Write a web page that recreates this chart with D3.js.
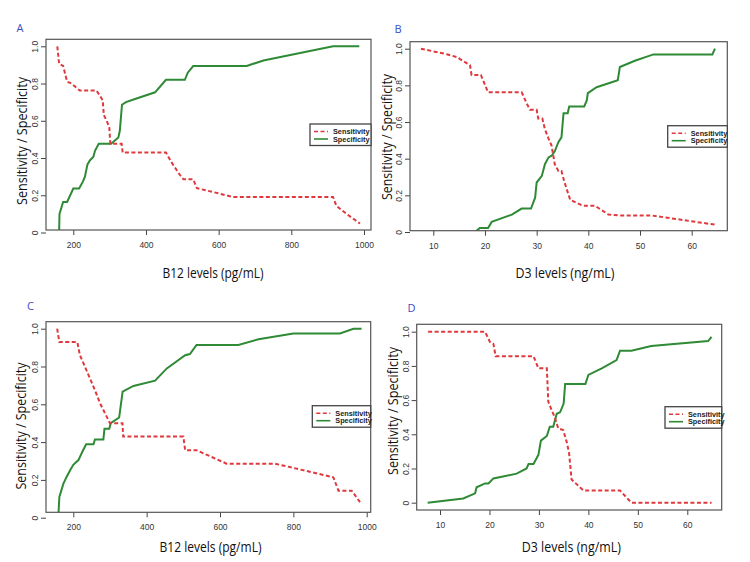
<!DOCTYPE html>
<html lang="en">
<head>
<meta charset="utf-8">
<title>Sensitivity / Specificity curves</title>
<script src="https://d3js.org/d3.v7.min.js"></script>
<style>
    body { margin: 0; background: #fff; }
    svg { display: block; }
    .tick text { font-family: 'Liberation Sans', Arial, sans-serif; font-size: 8.5px; fill: #333; }
    .tick line { stroke: #444; }
    .title { font-family: 'Open Sans', 'Noto Sans', sans-serif; font-size: 14.5px; fill: #111; }
    .letter { font-family: 'Open Sans', sans-serif; font-size: 11px; fill: #3b4cc0; }
    .leg text { font-family: 'Liberation Sans', Arial, sans-serif; font-size: 7.3px; font-weight: bold; fill: #222; }
</style>
</head>
<body>
<svg id="chart" width="750" height="562"></svg>
<script>
// values
const panelLetters = ['A', 'B', 'C', 'D'];
const xTitles = ['B12 levels (pg/mL)', 'D3 levels (ng/mL)', 'B12 levels (pg/mL)', 'D3 levels (ng/mL)'];
const b12Ticks = [200, 400, 600, 800, 1000];
const d3Ticks = [10, 20, 30, 40, 50, 60];
const yTicks = [0, 0.2, 0.4, 0.6, 0.8, 1.0];
const legendLabels = ['Sensitivity', 'Specificity'];

// panel A
const aSensX = [156, 161, 172, 183, 195, 207, 218, 264, 273, 281, 284, 292, 299, 302, 333, 336, 455, 471, 493, 503, 530, 540, 600, 640, 915, 924, 952, 989];
const aSensY = [1.0, 0.905, 0.895, 0.81, 0.80, 0.78, 0.762, 0.762, 0.735, 0.71, 0.63, 0.60, 0.565, 0.476, 0.476, 0.429, 0.429, 0.375, 0.31, 0.286, 0.286, 0.238, 0.21, 0.19, 0.19, 0.143, 0.10, 0.048];
const aSpecX = [161, 162, 172, 183, 200, 216, 226, 232, 239, 246, 255, 260, 270, 304, 324, 328, 334, 345, 370, 425, 455, 507, 515, 530, 677, 723, 915, 987];
const aSpecY = [0, 0.10, 0.164, 0.164, 0.236, 0.236, 0.272, 0.30, 0.366, 0.388, 0.405, 0.44, 0.477, 0.477, 0.51, 0.546, 0.686, 0.70, 0.717, 0.753, 0.82, 0.82, 0.858, 0.894, 0.894, 0.924, 1.0, 1.0];

// panel B
const bSensX = [7.6, 12.6, 14.5, 17.1, 17.4, 19.2, 20.6, 27.1, 28.1, 28.7, 30.0, 30.3, 31.1, 31.6, 32.3, 32.9, 33.5, 34.2, 34.8, 35.4, 36.5, 39.0, 41.3, 43.9, 46.1, 52.3, 64.5];
const bSensY = [1.0, 0.97, 0.955, 0.91, 0.857, 0.857, 0.762, 0.762, 0.70, 0.667, 0.667, 0.619, 0.619, 0.56, 0.51, 0.47, 0.37, 0.333, 0.333, 0.27, 0.175, 0.143, 0.143, 0.095, 0.09, 0.09, 0.04];
const bSpecX = [18.1, 19.0, 20.6, 21.3, 25.2, 27.1, 28.9, 29.7, 30.0, 31.0, 31.6, 32.3, 32.9, 33.5, 34.2, 34.8, 35.2, 36.0, 36.3, 39.2, 39.7, 39.9, 41.6, 45.7, 46.1, 49.0, 52.6, 64.0, 64.5];
const bSpecY = [0, 0.022, 0.022, 0.055, 0.095, 0.128, 0.128, 0.187, 0.27, 0.306, 0.37, 0.407, 0.416, 0.44, 0.49, 0.516, 0.648, 0.648, 0.685, 0.685, 0.718, 0.758, 0.79, 0.828, 0.90, 0.934, 0.969, 0.969, 1.0];

// panel C
const cSensX = [156, 162, 211, 218, 236, 259, 273, 300, 334, 336, 500, 505, 536, 618, 750, 909, 923, 959, 986];
const cSensY = [1.0, 0.929, 0.929, 0.86, 0.78, 0.675, 0.605, 0.5, 0.5, 0.429, 0.429, 0.357, 0.357, 0.286, 0.286, 0.214, 0.143, 0.143, 0.071];
const cSpecX = [159, 162, 173, 182, 191, 200, 214, 227, 235, 255, 259, 282, 285, 298, 302, 325, 334.5, 364, 423, 455, 505, 518, 536, 650, 705, 800, 927, 964, 986];
const cSpecY = [0, 0.11, 0.18, 0.217, 0.25, 0.28, 0.305, 0.358, 0.388, 0.388, 0.414, 0.414, 0.47, 0.47, 0.5, 0.53, 0.667, 0.697, 0.725, 0.79, 0.86, 0.866, 0.914, 0.914, 0.944, 0.975, 0.975, 1.0, 1.0];

// panel D
const dSensX = [7.6, 19.1, 20.1, 20.8, 21.25, 28.9, 29.9, 31.6, 31.9, 32.6, 33.2, 33.9, 34.9, 35.6, 36.1, 36.6, 39.0, 46.4, 48.7, 64.9];
const dSensY = [1.0, 1.0, 0.94, 0.929, 0.857, 0.857, 0.786, 0.786, 0.59, 0.54, 0.50, 0.435, 0.425, 0.357, 0.29, 0.136, 0.071, 0.071, 0, 0];
const dSpecX = [7.5, 14.7, 17.1, 17.4, 19.1, 19.8, 20.8, 22.5, 25.5, 27.5, 27.9, 28.9, 29.9, 30.4, 31.6, 32.2, 32.9, 33.6, 34.3, 35.0, 35.3, 39.4, 40.0, 42.7, 45.7, 46.4, 48.7, 52.7, 64.2, 64.9];
const dSpecY = [0, 0.025, 0.055, 0.09, 0.113, 0.113, 0.142, 0.152, 0.17, 0.2, 0.226, 0.226, 0.28, 0.363, 0.39, 0.444, 0.444, 0.52, 0.53, 0.58, 0.694, 0.694, 0.747, 0.786, 0.834, 0.889, 0.889, 0.916, 0.945, 0.97];

const RED = '#e0383c', GREEN = '#2f8a36';

// page layout of the four panels (pixel positions measured on the figure)
const panels = [
    { box: [46, 39.3, 371, 230], xd: [200, 1000], xr: [73.3, 364], yr: [232.5, 46.3], ticks: b12Ticks,
      sens: [aSensX, aSensY], spec: [aSpecX, aSpecY], legend: [310, 124], letter: [16.5, 31.5],
      xt: [213, 278], xLen: 101, yt: [21.7, 141], yLen: 128 },
    { box: [410, 41.7, 727.3, 230.7], xd: [10, 60], xr: [433.3, 691.7], yr: [232, 48.7], ticks: d3Ticks,
      sens: [bSensX, bSensY], spec: [bSpecX, bSpecY], legend: [667.7, 125.7], letter: [394.5, 32.5],
      xt: [565, 278], xLen: 99, yt: [386.7, 137], yLen: 126 },
    { box: [46, 321.7, 370.7, 512.3], xd: [200, 1000], xr: [73.3, 366.7], yr: [517.7, 328.7], ticks: b12Ticks,
      sens: [cSensX, cSensY], spec: [cSpecX, cSpecY], legend: [312.3, 405.7], letter: [27, 310],
      xt: [210.5, 551.5], xLen: 102, yt: [20.7, 426], yLen: 127 },
    { box: [416.7, 324.3, 721.7, 510], xd: [10, 60], xr: [440, 687.3], yr: [502.7, 331.7], ticks: d3Ticks,
      sens: [dSensX, dSensY], spec: [dSpecX, dSpecY], legend: [665, 406.7], letter: [407.5, 311.5],
      xt: [571.3, 551.5], xLen: 99, yt: [393.3, 411], yLen: 128 }
];

const svg = d3.select('#chart');
const yFmt = d => d === 0 ? '0' : d3.format('.1f')(d);

panels.forEach((p, i) => {
    const [l, t, r, b] = p.box;
    const x = d3.scaleLinear().domain(p.xd).range(p.xr);
    const y = d3.scaleLinear().domain([0, 1]).range(p.yr);
    const g = svg.append('g');

    g.append('clipPath').attr('id', 'clip' + i)
        .append('rect').attr('x', l).attr('y', t).attr('width', r - l).attr('height', b - t);

    // x axis (ticks hang below the frame)
    const xa = g.append('g').attr('transform', `translate(0,${b})`)
        .call(d3.axisBottom(x).tickValues(p.ticks).tickSize(5).tickPadding(7).tickFormat(d3.format('d')));
    xa.select('.domain').remove();

    // y axis, labels turned like base R
    const ya = g.append('g').attr('transform', `translate(${l},0)`)
        .call(d3.axisLeft(y).tickValues(yTicks).tickSize(5).tickFormat(yFmt));
    ya.select('.domain').remove();
    ya.selectAll('.tick text')
        .attr('x', null).attr('dy', null)
        .attr('text-anchor', 'middle')
        .attr('transform', 'translate(-8,0) rotate(-90)');

    // curves
    const line = d3.line().x(d => x(d[0])).y(d => y(d[1]));
    const plot = g.append('g').attr('clip-path', `url(#clip${i})`);
    plot.append('path')
        .attr('d', line(d3.zip(p.spec[0], p.spec[1])))
        .attr('fill', 'none').attr('stroke', GREEN).attr('stroke-width', 2);
    plot.append('path')
        .attr('d', line(d3.zip(p.sens[0], p.sens[1])))
        .attr('fill', 'none').attr('stroke', RED).attr('stroke-width', 2)
        .attr('stroke-dasharray', '4,2.5');

    // frame
    g.append('rect').attr('x', l).attr('y', t).attr('width', r - l).attr('height', b - t)
        .attr('fill', 'none').attr('stroke', '#555').attr('stroke-width', 1.2);

    // legend
    const [lx, ly] = p.legend;
    const leg = g.append('g').attr('class', 'leg').attr('transform', `translate(${lx},${ly})`);
    leg.append('rect').attr('width', r - lx).attr('height', 21.5)
        .attr('fill', '#fff').attr('stroke', '#444').attr('stroke-width', 1.3);
    legendLabels.forEach((lab, k) => {
        const yy = 7.5 + k * 7.5;
        leg.append('line').attr('x1', 4).attr('x2', 18).attr('y1', yy).attr('y2', yy)
            .attr('stroke', k === 0 ? RED : GREEN).attr('stroke-width', 1.6)
            .attr('stroke-dasharray', k === 0 ? '4,2.5' : null);
        leg.append('text').attr('x', 23).attr('y', yy + 2.5).text(lab);
    });

    // titles
    g.append('text').attr('class', 'title')
        .attr('x', p.xt[0]).attr('y', p.xt[1]).attr('text-anchor', 'middle')
        .attr('textLength', p.xLen).attr('lengthAdjust', 'spacingAndGlyphs')
        .text(xTitles[i]);
    g.append('text').attr('class', 'title')
        .attr('transform', `translate(${p.yt[0] + 5},${p.yt[1]}) rotate(-90)`)
        .attr('text-anchor', 'middle')
        .attr('textLength', p.yLen).attr('lengthAdjust', 'spacingAndGlyphs')
        .text('Sensitivity / Specificity');
    g.append('text').attr('class', 'letter')
        .attr('x', p.letter[0]).attr('y', p.letter[1])
        .text(panelLetters[i]);
});
</script>
</body>
</html>
